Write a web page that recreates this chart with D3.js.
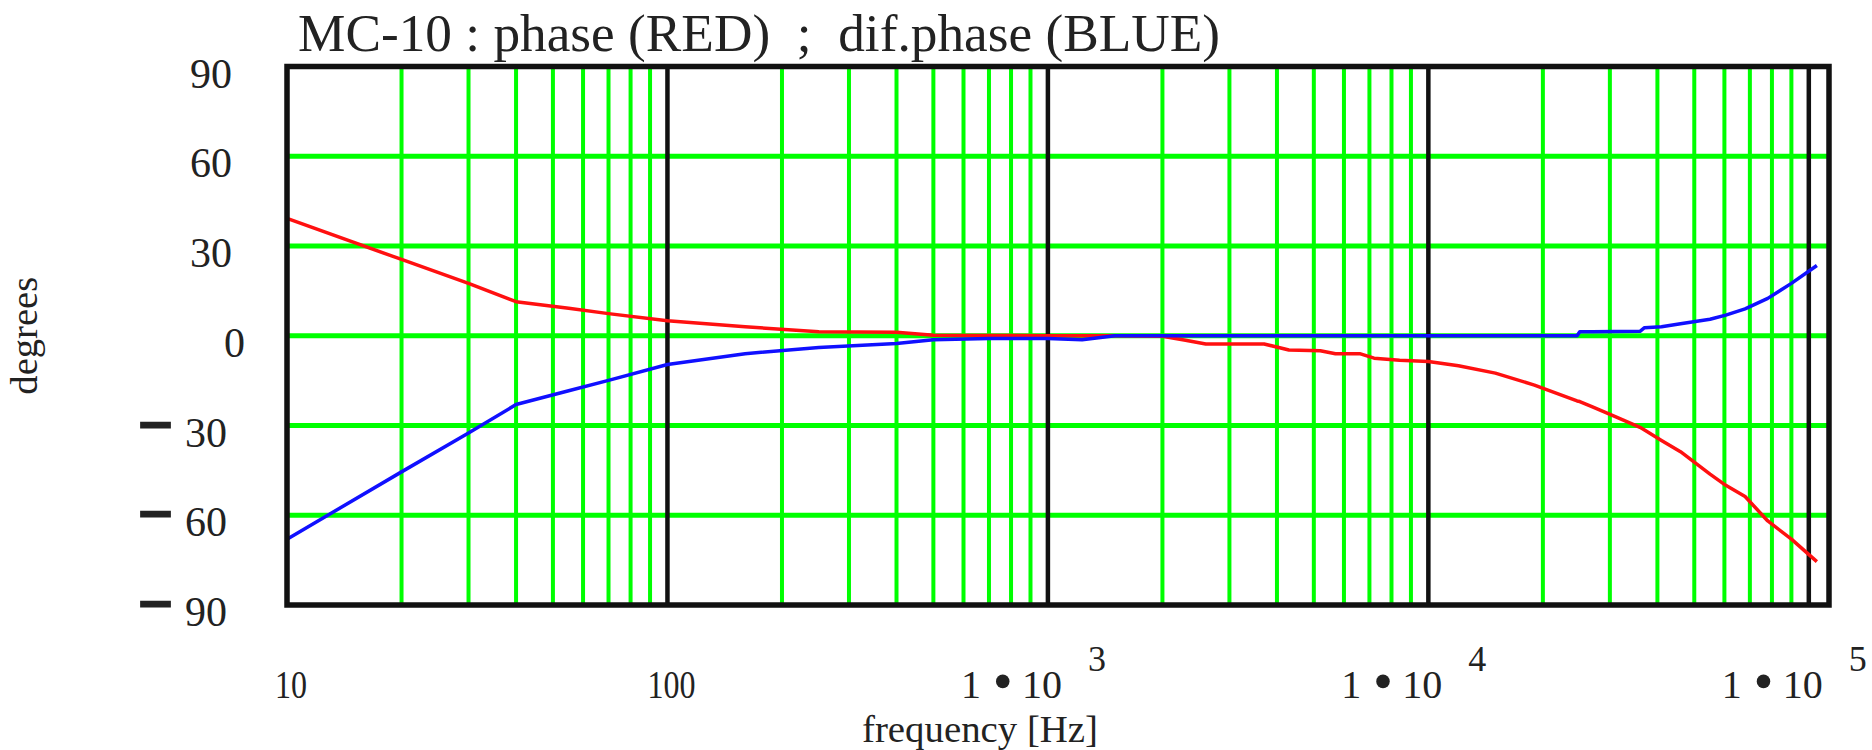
<!DOCTYPE html>
<html>
<head>
<meta charset="utf-8">
<script src="https://cdn.jsdelivr.net/npm/d3@7"></script>
<style>
  html, body { margin: 0; padding: 0; background: #fff; }
  svg { display: block; }
  text { font-family: "Liberation Serif", "Times New Roman", serif; fill: #222; }
</style>
</head>
<body>
<svg id="chart" width="1872" height="750"></svg>
<script>
// ---- data ----
const titleText = "MC-10 : phase (RED)  ;  dif.phase (BLUE)";
const xAxisTitle = "frequency [Hz]";
const yAxisTitle = "degrees";

const freqHz = [10, 20, 30, 40, 55, 70, 100, 160, 250, 400, 500, 700, 1000, 1230, 1500, 2000,
  2300, 2600, 3700, 4300, 5200, 5700, 6600, 7200, 8400, 10000, 12000, 15000, 19000, 24600,
  25000, 27000, 31000, 36000, 37000, 41000, 46000, 55000, 60500, 68000, 78000, 90000, 105000];

const phaseRed = [39.2, 25.5, 17.5, 11.4, 9.2, 7.4, 5.0, 3.0, 1.3, 1.2, 0.2, 0.1, 0, 0, 0, -0.2,
  -1.5, -2.75, -2.75, -4.75, -5, -6, -6, -7.5, -8.2, -8.6, -10, -12.5, -16.5, -21.8,
  -22, -23.75, -27, -30.6, -31.5, -35, -38.75, -46.25, -50, -53.75, -61.9, -68, -75.5];

const difPhaseBlue = [-68, -45.5, -32.5, -23, -18.4, -14.9, -9.6, -6.0, -3.9, -2.6, -1.3, -0.9, -0.9, -1.3, 0, 0,
  0, 0, 0, 0, 0, 0, 0, 0, 0, 0, 0, 0, 0, 0,
  1.3, 1.3, 1.4, 1.5, 2.7, 3.0, 4.0, 5.5, 6.9, 9, 12.5, 17.5, 23.5];

const yTickValues = [90, 60, 30, 0, -30, -60, -90];
const yGridValues = [60, 30, 0, -30, -60];
const decadeValues = [10, 100, 1000, 10000];
const minorMultipliers = [2, 3, 4, 5, 6, 7, 8, 9];
const decadeLineValues = [100, 1000, 10000, 100000];
const xLabelValues = [10, 100, 1000, 10000, 100000];
const xLabelPlain = ["10", "100", null, null, null];
const xLabelExponent = [null, null, "3", "4", "5"];

// ---- layout ----
const svg = d3.select("#chart");
const x = d3.scaleLog().domain([10, 1.13e5]).range([287, 1829]);
const y = d3.scaleLinear().domain([-90, 90]).range([605, 66.5]);

// minor green verticals
const minorLines = [];
decadeValues.forEach(d => minorMultipliers.forEach(m => minorLines.push(d * m)));
svg.append("g").selectAll("line").data(minorLines).join("line")
  .attr("x1", d => x(d)).attr("x2", d => x(d))
  .attr("y1", y(90)).attr("y2", y(-90))
  .attr("stroke", "#00ff00").attr("stroke-width", 4);

// green horizontals
svg.append("g").selectAll("line").data(yGridValues).join("line")
  .attr("x1", x(10)).attr("x2", x(1.13e5))
  .attr("y1", d => y(d)).attr("y2", d => y(d))
  .attr("stroke", "#00ff00").attr("stroke-width", 5);

// black decade lines
svg.append("g").selectAll("line").data(decadeLineValues).join("line")
  .attr("x1", d => x(d)).attr("x2", d => x(d))
  .attr("y1", y(90)).attr("y2", y(-90))
  .attr("stroke", "#111").attr("stroke-width", 4.5);

// curves
const lineGen = d3.line().x((d, i) => x(freqHz[i])).y(d => y(d));
svg.append("path").datum(phaseRed).attr("d", lineGen)
  .attr("fill", "none").attr("stroke", "#ff1010").attr("stroke-width", 3.5)
  .attr("stroke-linejoin", "round");
svg.append("path").datum(difPhaseBlue).attr("d", lineGen)
  .attr("fill", "none").attr("stroke", "#1010ff").attr("stroke-width", 3.5)
  .attr("stroke-linejoin", "round");

// border
svg.append("rect")
  .attr("x", x(10)).attr("y", y(90))
  .attr("width", x(1.13e5) - x(10)).attr("height", y(-90) - y(90))
  .attr("fill", "none").attr("stroke", "#111").attr("stroke-width", 5.5);

// title
svg.append("text").attr("x", 298).attr("y", 51)
  .style("white-space", "pre")
  .attr("font-size", 52)
  .attr("textLength", 922).attr("lengthAdjust", "spacingAndGlyphs")
  .text(titleText);

// y tick labels
const yl = svg.append("g");
yTickValues.forEach(v => {
  const gy = y(v);
  if (v > 0) {
    yl.append("text").attr("x", 232).attr("y", gy + 21).attr("text-anchor", "end")
      .attr("font-size", 42).text(String(v));
  } else if (v === 0) {
    yl.append("text").attr("x", 245).attr("y", gy + 21).attr("text-anchor", "end")
      .attr("font-size", 42).text("0");
  } else {
    const t = yl.append("text").attr("x", 142).attr("y", gy + 21).attr("font-size", 42)
      .style("white-space", "pre");
    t.append("tspan").attr("font-size", 54).attr("font-weight", "bold")
      .attr("dy", -9).attr("stroke", "#222").attr("stroke-width", 3).text("\u2013");
    t.append("tspan").attr("font-size", 42).attr("x", 185).attr("dy", 9).text(String(-v));
  }
});

// y axis title
svg.append("text")
  .attr("transform", `translate(37, ${y(0)}) rotate(-90)`)
  .attr("text-anchor", "middle").attr("font-size", 38.6)
  .text(yAxisTitle);

// x tick labels
const xl = svg.append("g");
xLabelValues.forEach((v, i) => {
  const t = x(v);
  if (xLabelPlain[i]) {
    xl.append("text").attr("x", t + 4).attr("y", 698).attr("text-anchor", "middle")
      .attr("font-size", 40)
      .attr("textLength", xLabelPlain[i].length * 16).attr("lengthAdjust", "spacingAndGlyphs")
      .text(xLabelPlain[i]);
  } else {
    const lab = xl.append("text").attr("x", t - 87).attr("y", 698).attr("font-size", 40);
    lab.append("tspan").text("1");
    lab.append("tspan").attr("x", t - 54).attr("font-size", 50).attr("font-weight", "bold").text("\u2022");
    lab.append("tspan").attr("x", t - 26).attr("font-size", 40).text("10");
    xl.append("text").attr("x", t + 40).attr("y", 671).attr("font-size", 36).text(xLabelExponent[i]);
  }
});

// x axis title
svg.append("text").attr("x", 980).attr("y", 742).attr("text-anchor", "middle")
  .attr("font-size", 37).attr("textLength", 236).attr("lengthAdjust", "spacingAndGlyphs")
  .text(xAxisTitle);
</script>
</body>
</html>
